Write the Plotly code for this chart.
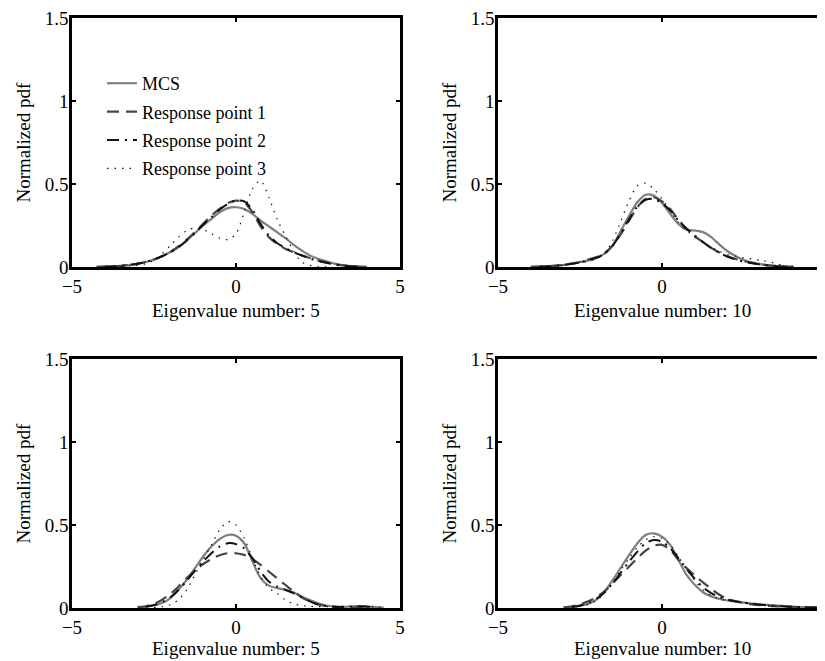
import plotly.graph_objects as go

# ---------------- data ----------------
X = [-4.5, -4.25, -4, -3.75, -3.5, -3.25, -3, -2.75, -2.5, -2.25, -2, -1.75, -1.5, -1.25, -1, -0.75, -0.5, -0.25,
     0, 0.25, 0.5, 0.75, 1, 1.25, 1.5, 1.75, 2, 2.25, 2.5, 2.75, 3, 3.25, 3.5, 3.75, 4, 4.25, 4.5, 4.75, 5]

SERIES = ["MCS", "Response point 1", "Response point 2", "Response point 3"]
TITLES = ["Eigenvalue number: 5", "Eigenvalue number: 10", "Eigenvalue number: 5", "Eigenvalue number: 10"]
Y_LABEL = "Normalized pdf"
X_TICKS = [-5, 0, 5]
Y_TICKS = [0, 0.5, 1, 1.5]

# top-left panel (eigenvalue 5)
A_MCS = [None, 0.001, 0.002, 0.004, 0.007, 0.012, 0.02, 0.03, 0.045, 0.065, 0.09, 0.12, 0.16, 0.205, 0.25, 0.29, 0.33, 0.355,
         0.36, 0.35, 0.32, 0.28, 0.245, 0.21, 0.175, 0.135, 0.1, 0.07, 0.05, 0.035, 0.02, 0.012, 0.005, 0.002, None, None, None, None, None]
A_RP1 = [None, 0.001, 0.002, 0.004, 0.007, 0.012, 0.02, 0.03, 0.045, 0.065, 0.09, 0.125, 0.165, 0.21, 0.26, 0.31, 0.35, 0.385,
         0.40, 0.39, 0.33, 0.245, 0.18, 0.14, 0.11, 0.09, 0.07, 0.055, 0.04, 0.028, 0.018, 0.01, 0.005, 0.002, 0.001, None, None, None, None]
A_RP2 = [None, None, 0.002, 0.004, 0.007, 0.012, 0.02, 0.03, 0.045, 0.065, 0.09, 0.12, 0.16, 0.205, 0.255, 0.3, 0.345, 0.38,
         0.40, 0.395, 0.345, 0.26, 0.19, 0.145, 0.115, 0.09, 0.07, 0.052, 0.037, 0.025, 0.015, 0.008, 0.004, 0.002, None, None, None, None, None]
A_RP3 = [None, None, None, None, 0.002, 0.005, 0.01, 0.02, 0.04, 0.08, 0.13, 0.18, 0.22, 0.235, 0.225, 0.2, 0.175, 0.165,
         0.2, 0.33, 0.47, 0.52, 0.42, 0.29, 0.19, 0.1, 0.03, 0.01, 0.003, 0.001, None, None, None, None, None, None, None, None, None]

# top-right panel (eigenvalue 10)
B_MCS = [None, None, 0.001, 0.002, 0.004, 0.007, 0.012, 0.02, 0.03, 0.04, 0.055, 0.08, 0.13, 0.22, 0.31, 0.39, 0.435, 0.43,
         0.385, 0.32, 0.26, 0.225, 0.22, 0.21, 0.18, 0.135, 0.095, 0.065, 0.042, 0.027, 0.017, 0.01, 0.005, 0.002, 0.001, None, None, None, None]
B_RP1 = [None, None, 0.001, 0.003, 0.005, 0.008, 0.013, 0.02, 0.03, 0.045, 0.06, 0.085, 0.13, 0.2, 0.28, 0.36, 0.41, 0.42,
         0.395, 0.35, 0.285, 0.23, 0.185, 0.15, 0.115, 0.087, 0.065, 0.048, 0.035, 0.025, 0.017, 0.01, 0.006, 0.003, 0.001, None, None, None, None]
B_RP2 = [None, None, None, 0.002, 0.004, 0.007, 0.012, 0.019, 0.028, 0.04, 0.055, 0.08, 0.13, 0.205, 0.29, 0.365, 0.405, 0.41,
         0.385, 0.34, 0.28, 0.23, 0.19, 0.15, 0.115, 0.085, 0.062, 0.045, 0.032, 0.022, 0.015, 0.009, 0.005, 0.002, 0.001, None, None, None, None]
B_RP3 = [None, None, None, None, 0.003, 0.006, 0.01, 0.017, 0.025, 0.035, 0.05, 0.08, 0.16, 0.28, 0.4, 0.49, 0.505, 0.47,
         0.41, 0.34, 0.27, 0.22, 0.18, 0.15, 0.12, 0.095, 0.075, 0.065, 0.055, 0.048, 0.04, 0.032, 0.02, 0.005, 0.001, None, None, None, None]

# bottom-left panel (eigenvalue 5)
C_MCS = [None, None, None, None, None, None, 0.003, 0.008, 0.015, 0.03, 0.06, 0.11, 0.17, 0.24, 0.31, 0.37, 0.415, 0.44,
         0.435, 0.39, 0.28, 0.18, 0.135, 0.12, 0.11, 0.095, 0.07, 0.048, 0.028, 0.015, 0.009, 0.007, 0.009, 0.011, 0.01, 0.006, 0.002, None, None]
C_RP1 = [None, None, None, None, None, None, 0.005, 0.01, 0.025, 0.05, 0.085, 0.13, 0.18, 0.225, 0.265, 0.295, 0.318, 0.33,
         0.33, 0.32, 0.295, 0.26, 0.22, 0.18, 0.14, 0.1, 0.065, 0.04, 0.022, 0.012, 0.007, 0.005, 0.004, 0.003, 0.002, None, None, None, None]
C_RP2 = [None, None, None, None, None, None, None, 0.008, 0.018, 0.035, 0.065, 0.11, 0.165, 0.225, 0.28, 0.33, 0.37, 0.39,
         0.385, 0.36, 0.3, 0.22, 0.16, 0.13, 0.11, 0.09, 0.065, 0.04, 0.022, 0.012, 0.007, 0.006, 0.008, 0.01, 0.008, 0.004, None, None, None]
C_RP3 = [None, None, None, None, None, None, None, None, 0.003, 0.008, 0.02, 0.05, 0.11, 0.2, 0.29, 0.38, 0.47, 0.52,
         0.5, 0.42, 0.3, 0.19, 0.12, 0.09, 0.05, 0.025, 0.015, 0.01, 0.008, 0.008, 0.009, 0.011, 0.012, 0.012, 0.01, 0.006, 0.003, None, None]

# bottom-right panel (eigenvalue 10)
D_MCS = [None, None, None, None, None, None, 0.002, 0.005, 0.012, 0.025, 0.05, 0.1, 0.17, 0.245, 0.32, 0.39, 0.44, 0.45,
         0.43, 0.38, 0.29, 0.2, 0.14, 0.095, 0.07, 0.055, 0.045, 0.038, 0.032, 0.027, 0.022, 0.018, 0.014, 0.011, 0.008, 0.006, 0.004, 0.003, 0.002]
D_RP1 = [None, None, None, None, None, None, 0.003, 0.01, 0.022, 0.04, 0.065, 0.1, 0.15, 0.2, 0.25, 0.3, 0.345, 0.375,
         0.38, 0.35, 0.29, 0.24, 0.195, 0.155, 0.115, 0.08, 0.055, 0.04, 0.03, 0.022, 0.017, 0.013, 0.01, 0.008, 0.006, 0.004, 0.003, 0.002, 0.001]
D_RP2 = [None, None, None, None, None, None, None, 0.006, 0.015, 0.03, 0.055, 0.095, 0.15, 0.215, 0.28, 0.34, 0.39, 0.41,
         0.4, 0.36, 0.3, 0.235, 0.175, 0.125, 0.09, 0.065, 0.05, 0.04, 0.032, 0.026, 0.02, 0.016, 0.012, 0.009, 0.007, 0.005, 0.003, 0.002, 0.001]
D_RP3 = [None, None, None, None, None, None, None, 0.004, 0.01, 0.022, 0.045, 0.09, 0.155, 0.23, 0.3, 0.365, 0.41, 0.43,
         0.42, 0.38, 0.31, 0.235, 0.165, 0.11, 0.075, 0.055, 0.045, 0.038, 0.032, 0.027, 0.022, 0.018, 0.014, 0.011, 0.008, 0.006, 0.004, 0.003, 0.002]

PANELS = [
    [A_MCS, A_RP1, A_RP2, A_RP3],
    [B_MCS, B_RP1, B_RP2, B_RP3],
    [C_MCS, C_RP1, C_RP2, C_RP3],
    [D_MCS, D_RP1, D_RP2, D_RP3],
]

# ---------------- style ----------------
# the page body adds an 8px margin, so everything is placed 8px up/left in figure pixels
W, H = 825, 661
FONT = "Liberation Serif, Times New Roman, serif"
FS = 19

STYLES = [
    dict(color="#7f7f7f", width=2.2, dash="solid"),
    dict(color="#454545", width=2.2, dash="12px,7px"),
    dict(color="#111111", width=2, dash="12px,6px,2px,6px"),
    dict(color="#111111", width=1.2, dash="1.5px,6px"),
]

# pixel boxes of the four plot areas in figure pixels (left, right, top, bottom)
BOXES = [(64, 392, 10, 259), (490, 818, 10, 259), (64, 392, 351, 600), (490, 818, 351, 600)]
TITLE_GAP = [43, 43, 40, 40]


def px_dom(box):
    l, r, t, b = box
    return [l / W, min(r / W, 1.0)], [1 - b / H, 1 - t / H]


fig = go.Figure()
annotations = []
for i, (panel, box) in enumerate(zip(PANELS, BOXES)):
    suffix = "" if i == 0 else str(i + 1)
    for j, (vals, name) in enumerate(zip(panel, SERIES)):
        fig.add_trace(go.Scatter(
            x=X, y=vals, mode="lines", name=name,
            line=dict(shape="spline", smoothing=0.8, **STYLES[j]),
            xaxis="x" + suffix, yaxis="y" + suffix,
            showlegend=(i == 0), legendgroup=name,
        ))
    xd, yd = px_dom(box)
    axis_common = dict(
        showgrid=False, zeroline=False, showline=True, linecolor="black", linewidth=2.5,
        mirror="ticks", ticks="inside", ticklen=4, tickwidth=1.5, tickcolor="black",
        tickfont=dict(family=FONT, size=FS, color="black"), automargin=False,
        ticklabeloverflow="allow",
    )
    fig.update_layout(**{
        "xaxis" + suffix: dict(domain=xd, range=[-5, 5], tickvals=X_TICKS, anchor="y" + suffix, **axis_common),
        "yaxis" + suffix: dict(domain=yd, range=[0, 1.5], tickvals=Y_TICKS, anchor="x" + suffix,
                               ticklabelstandoff=-3, **axis_common),
    })
    l, r, t, b = box
    annotations.append(dict(text=TITLES[i], xref="paper", yref="paper", x=((l + r) / 2) / W,
                            y=1 - (b + TITLE_GAP[i]) / H,
                            xanchor="center", yanchor="middle", showarrow=False,
                            font=dict(family=FONT, size=FS, color="black")))
    annotations.append(dict(text=Y_LABEL, xref="paper", yref="paper", x=(l - 49) / W, y=1 - ((t + b) / 2) / H,
                            xanchor="center", yanchor="middle", showarrow=False, textangle=-90,
                            font=dict(family=FONT, size=FS, color="black")))

fig.update_layout(
    width=W, height=H,
    margin=dict(l=0, r=0, t=0, b=0, autoexpand=False),
    paper_bgcolor="white", plot_bgcolor="white",
    font=dict(family=FONT, size=FS, color="black"),
    annotations=annotations,
    showlegend=True,
    legend=dict(x=94 / W, y=1 - 57 / H, xanchor="left", yanchor="top", bgcolor="rgba(0,0,0,0)",
                borderwidth=0, font=dict(family=FONT, size=18, color="black"), tracegroupgap=2),
)

fig.write_html("out.html")
